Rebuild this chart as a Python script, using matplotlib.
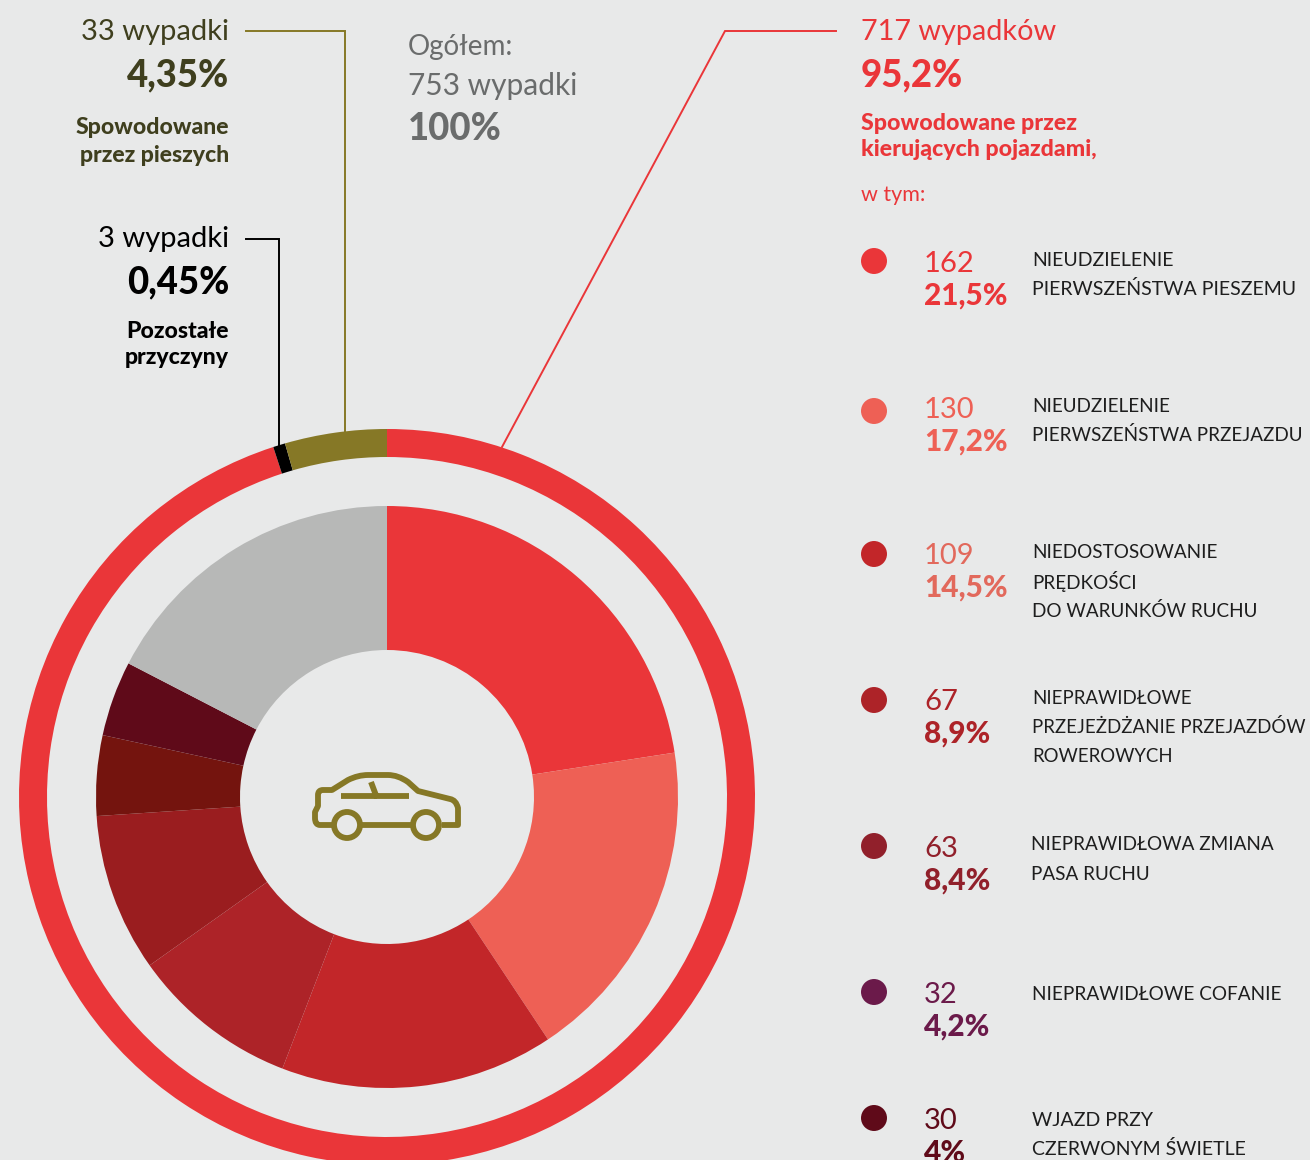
import matplotlib
matplotlib.use("Agg")
import matplotlib.pyplot as plt
from matplotlib.path import Path
from matplotlib.patches import PathPatch, Circle

BG = "#E8E9E9"
RED = "#EA3639"
OLIVE = "#867826"
DARK_OLIVE = "#3F3F1E"
GREY_TEXT = "#6A6C6C"

# outer ring (percent), clockwise from the top
ring_values = [95.0, 0.53, 4.47]
ring_colors = [RED, "#000000", OLIVE]

# inner donut: counts of the driver caused accidents, last slice is the rest
causes = [162, 130, 109, 67, 63, 32, 30]
rest = [125]
cause_pct = ["21,5%", "17,2%", "14,5%", "8,9%", "8,4%", "4,2%", "4%"]
cause_labels = [
    ["NIEUDZIELENIE", "PIERWSZEŃSTWA PIESZEMU"],
    ["NIEUDZIELENIE", "PIERWSZEŃSTWA PRZEJAZDU"],
    ["NIEDOSTOSOWANIE", "PRĘDKOŚCI", "DO WARUNKÓW RUCHU"],
    ["NIEPRAWIDŁOWE", "PRZEJEŻDŻANIE PRZEJAZDÓW", "ROWEROWYCH"],
    ["NIEPRAWIDŁOWA ZMIANA", "PASA RUCHU"],
    ["NIEPRAWIDŁOWE COFANIE"],
    ["WJAZD PRZY", "CZERWONYM ŚWIETLE"],
]
wedge_colors = [RED, "#EE6055", "#C22629", "#AD2328", "#9A1D1F", "#74140E", "#5F0A19", "#B7B8B7"]
dot_colors = [RED, "#EE6055", "#C22629", "#AD2328", "#91202B", "#6B1A4A", "#5F0A19"]
text_colors = [RED, "#EE6055", "#E2695C", "#AD2328", "#91202B", "#6B1A4A", "#5F0A19"]
dot_y = [261, 411, 554, 700, 846, 992, 1118]
row_y = [261, 407, 553, 699, 846, 992, 1118]
label_y = [258, 404, 551, 696, 843, 992, 1118]
label_size = [14, 13.6, 13.6, 13.4, 13.6, 13.7, 14]

W, H = 1310, 1160
CX, CY = 387, H - 797

plt.rcParams["font.family"] = ["Lato", "DejaVu Sans"]

fig = plt.figure(figsize=(W / 100, H / 100), dpi=100, facecolor=BG)
ax = fig.add_axes([0, 0, 1, 1])

ax.pie(ring_values, colors=ring_colors, startangle=90, counterclock=False,
       center=(CX, CY), radius=368, wedgeprops=dict(width=28, lw=0))
ax.pie(causes + rest, colors=wedge_colors, startangle=90, counterclock=False,
       center=(CX, CY), radius=291, wedgeprops=dict(width=144, lw=0))
ax.set_xlim(0, W)
ax.set_ylim(0, H)
ax.set_aspect("equal")
ax.axis("off")


def txt(x, y, s, size, color, weight="normal", ha="left"):
    # va center sits about 2 px high for this font
    ax.text(x, H - y - 2, s, fontsize=size, color=color, fontweight=weight, ha=ha, va="center")


def polyline(xs, ys, color, lw=1.4):
    ax.plot(xs, [H - y for y in ys], color=color, lw=lw, solid_joinstyle="miter", zorder=1)


# connector lines
polyline([246, 345, 345], [31, 31, 432], OLIVE)
polyline([246, 279, 279], [239, 239, 445], "#000000")
polyline([836, 725, 502], [31, 31, 447], RED)

# left column
txt(229, 30, "33 wypadki", 21, DARK_OLIVE, ha="right")
txt(229, 73, "4,35%", 26.3, DARK_OLIVE, "black", ha="right")
txt(229, 126, "Spowodowane", 16.6, DARK_OLIVE, "black", ha="right")
txt(229, 153, "przez pieszych", 16.6, DARK_OLIVE, "black", ha="right")
txt(229, 237, "3 wypadki", 21, "#000000", ha="right")
txt(229, 280, "0,45%", 26.3, "#000000", "black", ha="right")
txt(229, 329, "Pozostałe", 16.6, "#000000", "black", ha="right")
txt(229, 356, "przyczyny", 16.6, "#000000", "black", ha="right")

# total
txt(408, 45, "Ogółem:", 20, GREY_TEXT)
txt(408, 84, "753 wypadki", 21.5, GREY_TEXT)
txt(408, 127, "100%", 26.3, GREY_TEXT, "black")

# right column header
txt(861, 30, "717 wypadków", 20.8, RED)
txt(861, 73, "95,2%", 26.3, RED, "black")
txt(861, 122, "Spowodowane przez", 16.7, RED, "black")
txt(861, 148, "kierujących pojazdami,", 16.7, RED, "black")
txt(861, 193, "w tym:", 15.5, RED)

# legend rows
ax.scatter([874] * len(causes), [H - y for y in dot_y], s=350, c=dot_colors, linewidths=0, zorder=3)
for i in range(len(causes)):
    y = row_y[i]
    txt(924, y + 1, str(causes[i]), 21, text_colors[i])
    txt(924, y + 33, cause_pct[i], 21.5, text_colors[i], "black")
    label_x = 1031 if i == 4 else 1032
    for j, line in enumerate(cause_labels[i]):
        txt(label_x, label_y[i] + j * 29, line, label_size[i], "#1E1E1E")


# car icon, traced in px from the top left of the picture
def car_path():
    L, Q, M = Path.LINETO, Path.CURVE3, Path.MOVETO
    pts = [
        (332, 825, M), (320, 825, L), (315, 825, Q), (315, 818, Q), (315, 812, L), (318, 806, L),
        (318, 795, L), (318, 790, Q), (323, 790, Q), (332, 790, L), (348, 780, L), (358, 775, Q),
        (368, 775, Q), (388, 775, L), (398, 775, Q), (408, 782, Q), (418, 791, L), (450, 799, L),
        (456, 800, Q), (458, 808, Q), (458, 825, L), (442, 825, L),
        (362, 825, M), (412, 825, L),
        (341, 796, M), (409, 796, L),
        (371, 782, M), (377, 798, L),
    ]
    return Path([(x, H - y) for x, y, _ in pts], [c for _, _, c in pts])


ax.add_patch(PathPatch(car_path(), fill=False, ec=OLIVE, lw=4.2, capstyle="butt", joinstyle="round"))
for wx in (347, 426):
    ax.add_patch(Circle((wx, H - 825), 13, fc="none", ec=OLIVE, lw=4.2))

fig.savefig("out.png", dpi=100, facecolor=BG)
